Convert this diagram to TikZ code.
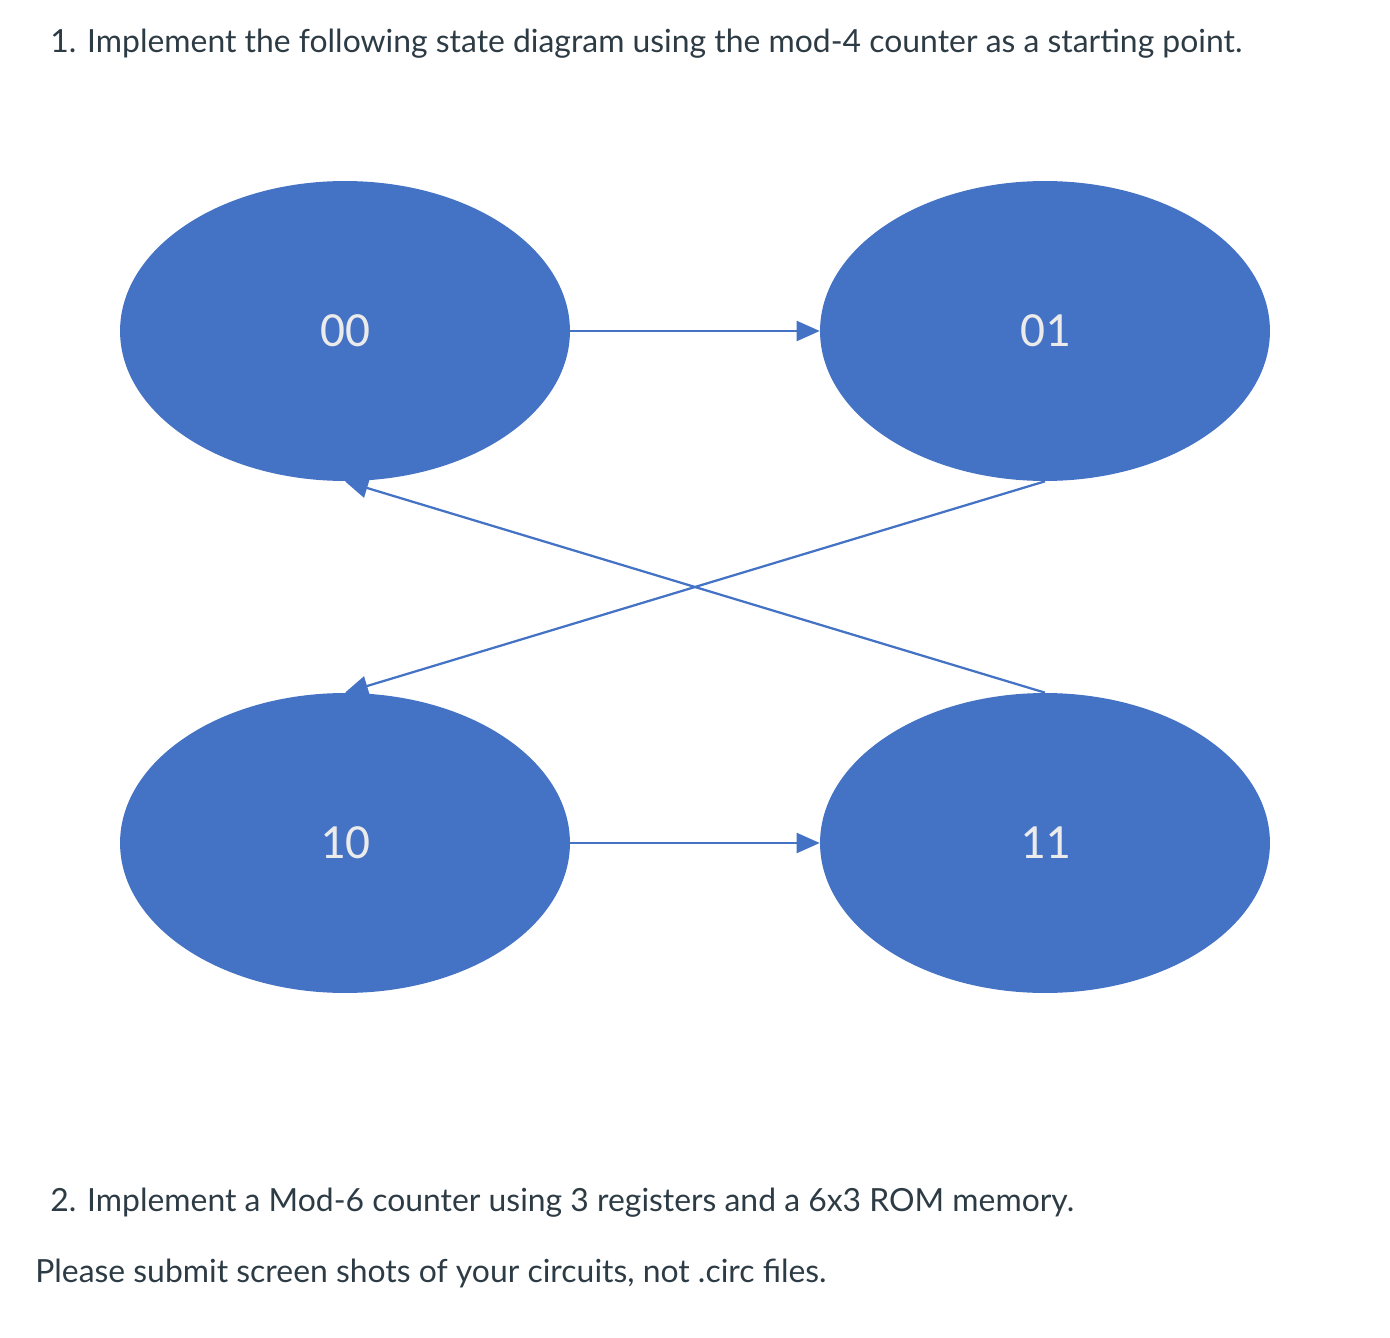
\documentclass[tikz,border=0pt]{standalone}
\usepackage{fontspec}
\setmainfont{Lato}
\newfontfamily\labelfont{Carlito}
\usepackage{xcolor}
\usetikzlibrary{shapes.geometric,arrows.meta}
\definecolor{stateblue}{HTML}{4472C4}
\definecolor{textgray}{HTML}{2D3B45}

\begin{document}
\begin{tikzpicture}[x=0.02cm,y=-0.02cm,
  state/.style={shape=ellipse,fill=stateblue,minimum width=9cm,minimum height=6cm,inner sep=0pt,text=white!92!black,font=\labelfont\fontsize{28}{30}\selectfont},
  trans/.style={draw=stateblue,line width=0.045cm,-{Triangle[length=0.46cm,width=0.4cm]}},
  para/.style={anchor=base west,text=textgray,inner sep=0pt,font=\fontsize{18.15}{22}\selectfont}]
  \useasboundingbox (0,0) rectangle (1390,1338);
  \node[para] (q1) at (50,53) {1. Implement the following state diagram using the mod-4 counter as a starting point.};
  \node[state] (s00) at (345,331) {00};
  \node[state] (s01) at (1045,331) {01};
  \node[state] (s10) at (345,843) {10};
  \node[state] (s11) at (1045,843) {11};
  \draw[trans] (s00) -- (s01);
  \draw[trans] (s10) -- (s11);
  \draw[trans] (s01.south) -- (s10.north);
  \draw[trans] (s11.north) -- (s00.south);
  \node[para] (q2) at (50,1211) {2. Implement a Mod-6 counter using 3 registers and a 6x3 ROM memory.};
  \node[para] (note) at (35,1282) {Please submit screen shots of your circuits, not .circ files.};
\end{tikzpicture}
\end{document}
